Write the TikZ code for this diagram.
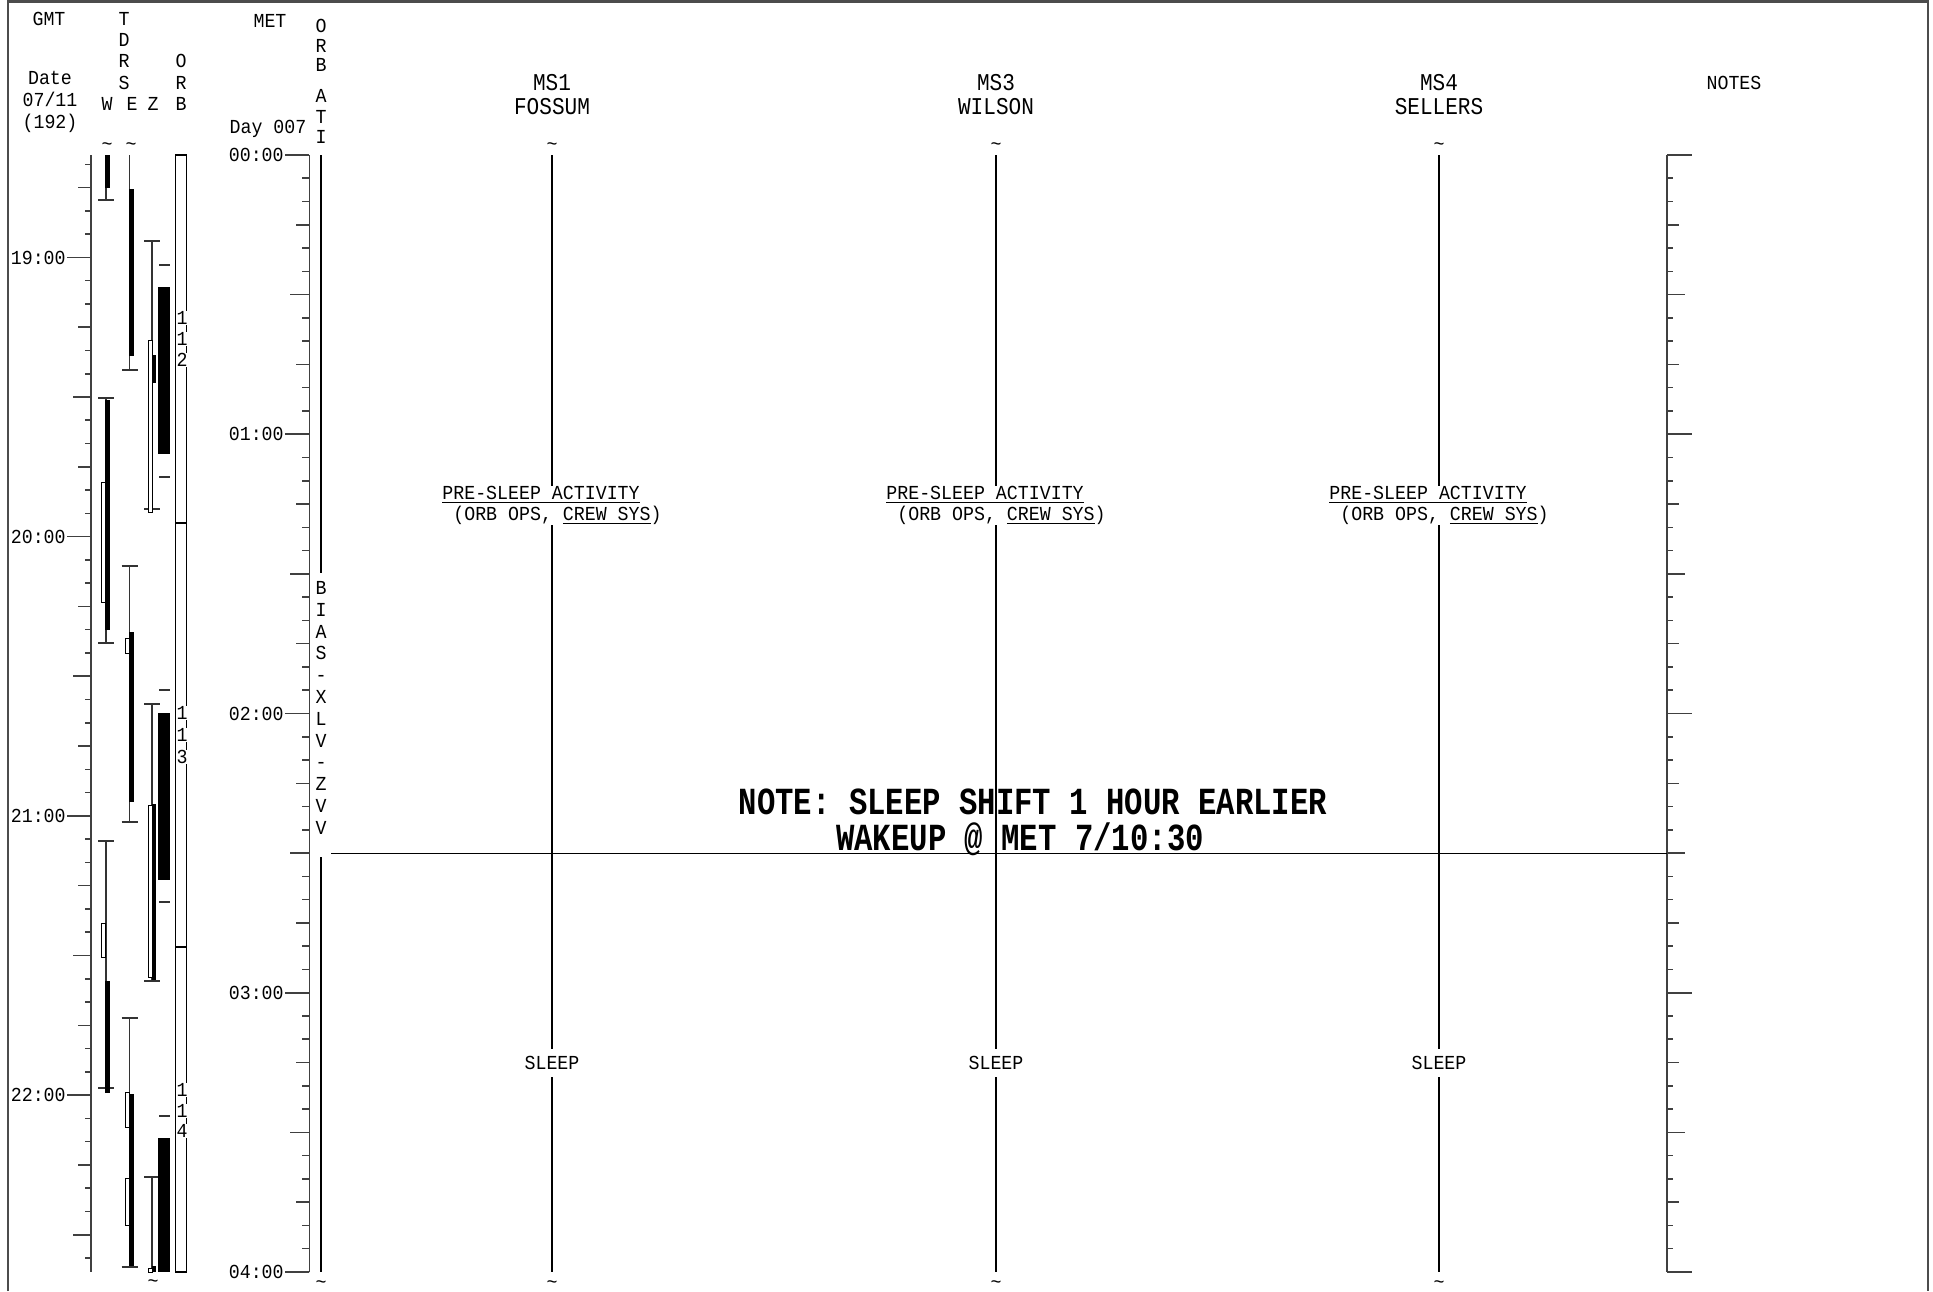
\documentclass[tikz,border=0pt]{standalone}
\usepackage{fontspec}
\setmainfont{Liberation Mono}[FakeStretch=0.92]
\newfontfamily\crewfont{Liberation Mono}[FakeStretch=0.875]
\newfontfamily\notefont{Liberation Mono}[FakeStretch=0.8]
\newcommand\pass[3]{\draw[tbar] (#1-8,#2) -- (#1+8,#2) (#1,#2) -- (#1,#3) (#1-8,#3) -- (#1+8,#3);}

\begin{document}
\begin{tikzpicture}[x=0.02cm, y=-0.02cm,
	lbl/.style={font=\fontsize{11.3}{12}\selectfont, inner sep=0pt, anchor=base},
	crew/.style={font=\crewfont\fontsize{13.7}{15}\selectfont, inner sep=0pt, anchor=base},
	bignote/.style={font=\notefont\bfseries\fontsize{21.8}{24}\selectfont, inner sep=0pt, anchor=base},
	axisline/.style={black!75, line width=0.9pt},
	rule/.style={black, line width=0.6pt},
	tbar/.style={black!80, line width=0.7pt},
	hollow/.style={draw=black, fill=white, line width=0.5pt}]
	\useasboundingbox (0,0) rectangle (1933,1291);
	\draw[black!70, line width=1.2pt] (8,1291) -- (8,1.5) -- (1928,1.5) -- (1928,1291);

	% headings
	\node[lbl] (gmt) at (49,25.6) {GMT};
	\node[lbl] (date) at (50,84.6) {Date};
	\node[lbl] (dd) at (50,106.6) {07/11};
	\node[lbl] (doy) at (50,128.6) {(192)};
	\foreach \c/\y [count=\k] in {T/18.5,D/40,R/61,S/82.5} \node[lbl] (tdrs\k) at (124,\y+6.6) {\c};
	\foreach \c/\x in {W/107,E/132,Z/153} \node[lbl] (sat\c) at (\x,110.6) {\c};
	\foreach \c/\y [count=\k] in {O/61,R/82.5,B/104} \node[lbl] (orb\k) at (181,\y+6.6) {\c};
	\node[lbl] (met) at (270,27.6) {MET};
	\node[lbl] (day) at (268,133.6) {Day 007};
	\foreach \c/\y [count=\k] in {O/26,R/45.5,B/65,A/96,T/117,I/137} \node[lbl] (att\k) at (321,\y+6.6) {\c};
	\node[lbl] (notes) at (1734,89.6) {NOTES};
	\foreach \x/\n in {107/w,131/e} \node[lbl, anchor=center] (tw\n) at (\x,147) {\textasciitilde};
	\node[lbl, anchor=center] (tz) at (153,1284) {\textasciitilde};
	\node[lbl, anchor=center] (tatt) at (321,1285) {\textasciitilde};

	% GMT scale
	\draw[axisline] (91,155) -- (91,1272);
	\foreach \i in {0,...,47} \draw[axisline] (91,{164.3+23.27*\i}) -- ++(-6,0);
	\foreach \i in {1,4,...,46} \draw[axisline] (91,{164.3+23.27*\i}) -- ++(-13,0);
	\foreach \i in {10,22,34,46} \draw[axisline] (91,{164.3+23.27*\i}) -- ++(-18,0);
	\foreach \h [count=\k from 0] in {19,20,21,22} {
		\node[lbl, anchor=base east] (g\h) at (66,{257.4+279.25*\k+6.6}) {\h:00};
		\draw[axisline] (67,{257.4+279.25*\k}) -- (91,{257.4+279.25*\k});
	}

	% MET and notes scales
	\draw[axisline] (309.3,155) -- (309.3,1272);
	\draw[axisline] (1667,155) -- (1667,1272);
	\foreach \i in {0,...,48} {
		\draw[axisline] (309.3,{155+23.27*\i}) -- ++(-7,0);
		\draw[axisline] (1667,{155+23.27*\i}) -- ++(6,0);
	}
	\foreach \i in {0,3,...,48} {
		\draw[axisline] (309.3,{155+23.27*\i}) -- ++(-13,0);
		\draw[axisline] (1667,{155+23.27*\i}) -- ++(12,0);
	}
	\foreach \i in {0,6,...,48} {
		\draw[axisline] (309.3,{155+23.27*\i}) -- ++(-19,0);
		\draw[axisline] (1667,{155+23.27*\i}) -- ++(18,0);
	}
	\foreach \h in {0,...,4} {
		\node[lbl, anchor=base east] (m\h) at (284,{155+279.25*\h+6.6}) {0\h:00};
		\draw[axisline] (285,{155+279.25*\h}) -- (309.3,{155+279.25*\h});
		\draw[axisline] (1667,{155+279.25*\h}) -- ++(25,0);
	}

	% TDRS coverage
	\draw[tbar] (106,155) -- (106,200) (98,200) -- (114,200);
	\fill (105.3,155) rectangle (110,188);
	\pass{106}{398}{643}
	\fill (105.3,400) rectangle (110,630);
	\draw[hollow] (101.7,482) rectangle (105.3,602);
	\pass{106}{841}{1088}
	\draw[hollow] (101.7,923) rectangle (105.3,957);
	\fill (105.3,981) rectangle (110,1093);

	\draw[tbar] (129.7,155) -- (129.7,370) (122,370) -- (138,370);
	\fill (129.3,189) rectangle (134,356);
	\pass{129.7}{566}{822}
	\fill (129.3,632) rectangle (134,802);
	\draw[hollow] (125.7,638) rectangle (129.3,653);
	\pass{129.7}{1018}{1267}
	\fill (129.3,1094) rectangle (134,1266);
	\draw[hollow] (125.7,1092) rectangle (129.3,1127);
	\draw[hollow] (125.7,1178) rectangle (129.3,1225);

	\pass{152}{241}{509}
	\draw[hollow] (148,340) rectangle (152,512);
	\fill (152,355) rectangle (156,383);
	\fill (158.3,287) rectangle (170,454);
	\draw[tbar] (159,265) -- (170,265) (159,477) -- (170,477);
	\pass{152}{704}{981}
	\draw[hollow] (148,805) rectangle (152,977);
	\fill (152,804) rectangle (156,980);
	\fill (158.3,713) rectangle (170,880);
	\draw[tbar] (159,690) -- (170,690) (159,902) -- (170,902);
	\draw[tbar] (144,1177) -- (160,1177) (152,1177) -- (152,1272);
	\fill (158.3,1138) rectangle (170,1272);
	\draw[tbar] (159,1116) -- (170,1116);
	\draw[hollow] (148,1268) rectangle (152,1272);
	\fill (152,1266) rectangle (156,1272);

	% orbits
	\draw[rule] (175.7,155) rectangle (186.7,1272);
	\draw[rule] (175.7,523) -- (186.7,523) (175.7,947) -- (186.7,947);
	\foreach \d/\y [count=\k] in {1/318,1/339,2/360,1/713,1/735,3/757,1/1090,1/1111,4/1131}
		\node[lbl, fill=white, inner sep=0.3pt] (rev\k) at (182,\y+6.6) {\d};

	% attitude
	\foreach \c [count=\k] in {B,I,A,S,-,X,L,V,-,Z,V,V} \node[lbl] (bias\k) at (321,{566+21.8*\k+6.6}) {\c};
	\draw[rule] (321,155) -- (321,573);
	\draw[rule] (321,857) -- (321,1272);

	% crew columns
	\foreach \x/\id/\nm [count=\k] in {552/MS1/FOSSUM,996/MS3/WILSON,1439/MS4/SELLERS} {
		\node[crew] (id\k) at (\x,91) {\id};
		\node[crew] (nm\k) at (\x,114) {\nm};
		\node[lbl, anchor=center] (top\k) at (\x,147) {\textasciitilde};
		\node[lbl, anchor=center] (bot\k) at (\x,1285) {\textasciitilde};
		\node[lbl, anchor=north, align=left] (pre\k) at (\x,486) {\underline{PRE-SLEEP ACTIVITY}\\~(ORB OPS, \underline{CREW SYS})};
		\node[lbl, inner ysep=4pt] (slp\k) at (\x,1069.6) {SLEEP};
		\draw[rule] (\x,155) -- (pre\k.north);
		\draw[rule] (pre\k.south) -- (slp\k.north);
		\draw[rule] (slp\k.south) -- (\x,1272);
	}

	\node[bignote] (note1) at (1033,814) {NOTE: SLEEP SHIFT 1 HOUR EARLIER};
	\node[bignote] (note2) at (1020,850) {WAKEUP @ MET 7/10:30};
	\draw[black, line width=0.8pt] (331,853.5) -- (1667,853.5);
\end{tikzpicture}
\end{document}
